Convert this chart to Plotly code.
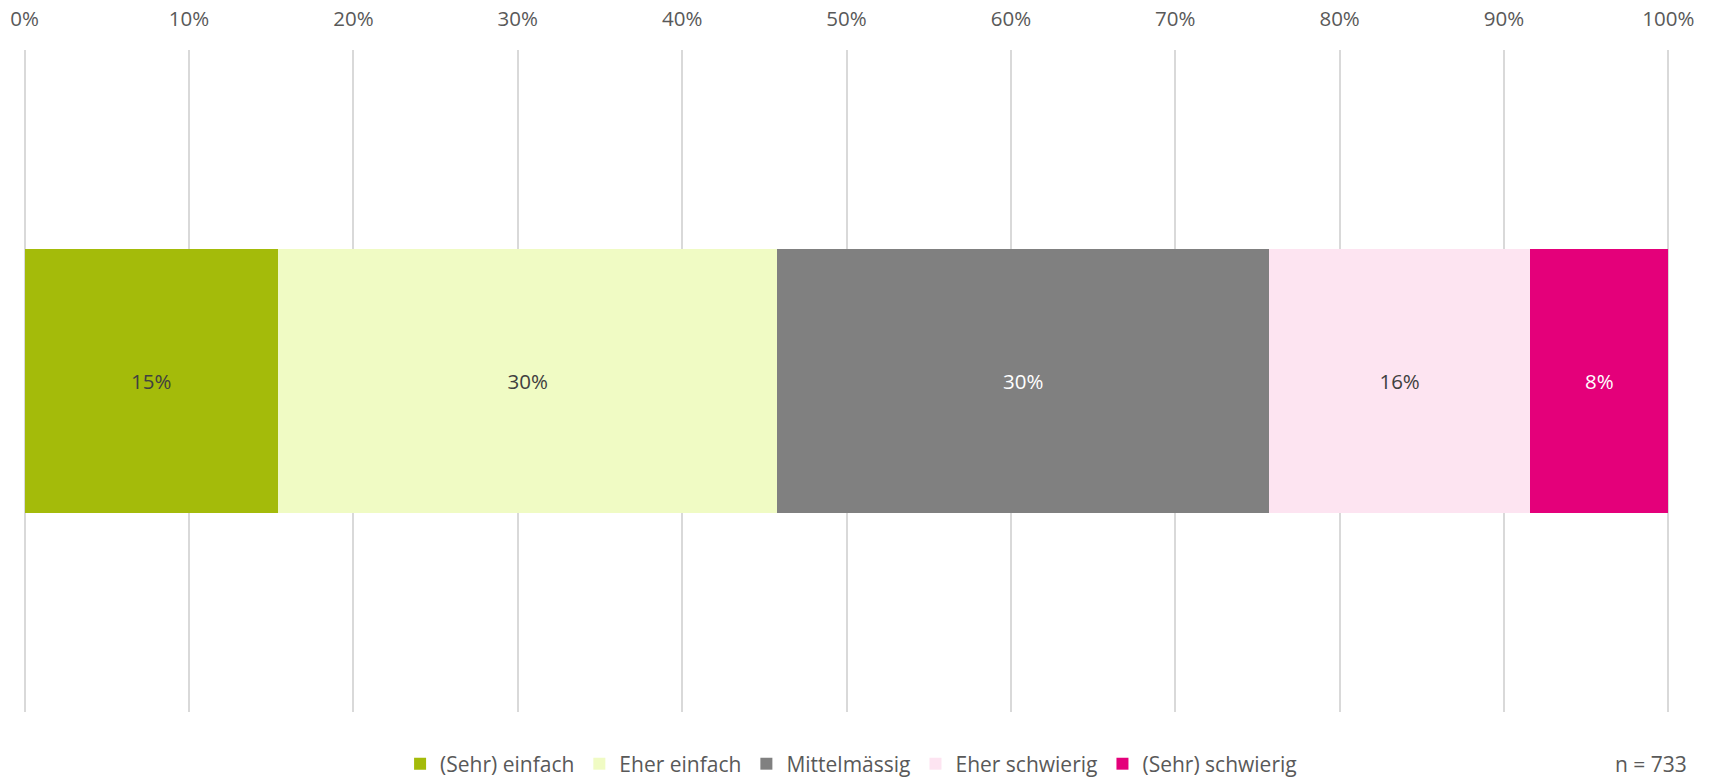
import plotly.graph_objects as go

# Response categories, shares and styling per segment
categories = ["(Sehr) einfach", "Eher einfach", "Mittelmässig", "Eher schwierig", "(Sehr) schwierig"]
shares = [0.154, 0.304, 0.299, 0.159, 0.084]
colors = ["#A4BB0A", "#F0FBC4", "#808080", "#FDE4F1", "#E4007A"]
label_colors = ["#404040", "#404040", "#FFFFFF", "#404040", "#FFFFFF"]
tick_values = [i / 10 for i in range(11)]
tick_labels = [f"{i * 10}%" for i in range(11)]
sample_note = "n = 733"

FONT = "Open Sans"
PAD = 0.001  # small range padding so the 0% and 100% gridlines are drawn

fig = go.Figure()
for name, value, color, tcolor in zip(categories, shares, colors, label_colors):
    fig.add_trace(go.Bar(
        x=[value],
        y=[""],
        name=name,
        orientation="h",
        marker=dict(color=color, line=dict(width=0)),
        texttemplate="%{x:.0%}",
        textposition="inside",
        insidetextanchor="middle",
        textangle=0,
        textfont=dict(family=FONT, size=20.5, color=tcolor),
        hoverinfo="name+x",
    ))

fig.update_layout(
    barmode="stack",
    bargap=0.6,
    width=1709,
    height=777,
    margin=dict(l=23.4, r=39.4, t=50, b=65, autoexpand=False),
    paper_bgcolor="white",
    plot_bgcolor="white",
    font=dict(family=FONT, color="#595959"),
    xaxis=dict(
        side="top",
        range=[-PAD, 1 + PAD],
        tickvals=tick_values,
        ticktext=tick_labels,
        tickfont=dict(family=FONT, size=20.5, color="#595959"),
        showgrid=True,
        gridcolor="#D9D9D9",
        gridwidth=1.5,
        zeroline=False,
        showline=False,
        ticks="outside",
        ticklen=15,
        tickcolor="rgba(0,0,0,0)",
        automargin=False,
        fixedrange=True,
    ),
    yaxis=dict(
        showgrid=False,
        zeroline=False,
        showline=False,
        showticklabels=False,
        automargin=False,
        fixedrange=True,
    ),
    legend=dict(
        orientation="h",
        x=0.498,
        xanchor="center",
        xref="container",
        y=0.0167,
        yanchor="middle",
        yref="container",
        font=dict(family=FONT, size=21, color="#595959"),
        traceorder="normal",
    ),
    annotations=[dict(
        text=sample_note,
        xref="paper",
        yref="paper",
        x=1.0115,
        xanchor="right",
        y=-0.0785,
        yanchor="middle",
        showarrow=False,
        font=dict(family=FONT, size=21, color="#595959"),
    )],
)

fig.write_html("out.html")
